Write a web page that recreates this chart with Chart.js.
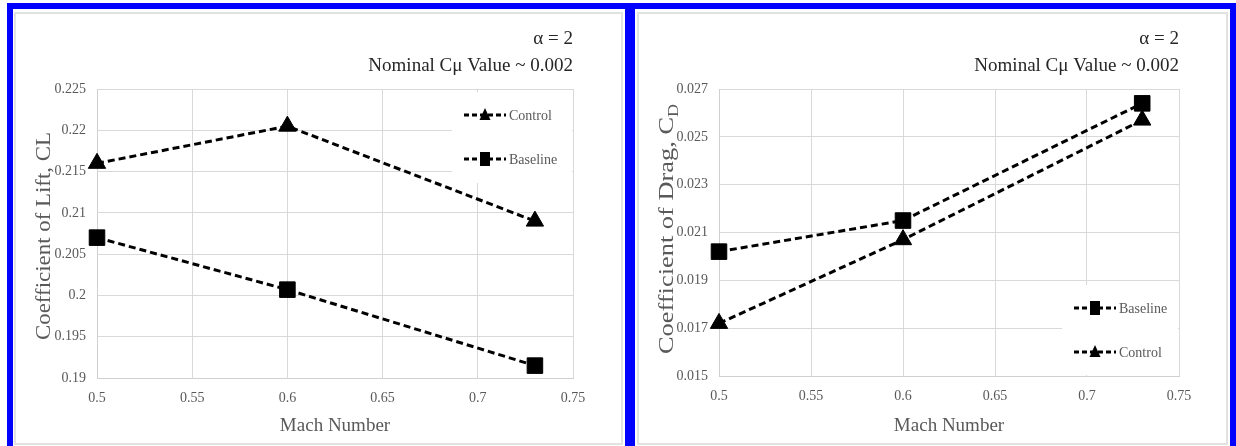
<!DOCTYPE html>
<html>
<head>
<meta charset="utf-8">
<script src="https://cdn.jsdelivr.net/npm/chart.js@4.4.1/dist/chart.umd.min.js"></script>
<style>
  body { margin: 0; background: #fff; width: 1236px; height: 446px; position: relative; overflow: hidden; }
  .blue { position: absolute; background: #0000ff; }
  .frame { position: absolute; border: 2px solid #e2e2e2; box-sizing: border-box; }
  canvas { position: absolute; }
</style>
</head>
<body>
<div class="blue" style="left:7px;top:3px;width:1229px;height:6px"></div>
<div class="blue" style="left:7px;top:3px;width:6px;height:443px"></div>
<div class="blue" style="left:625px;top:3px;width:10px;height:443px"></div>
<div class="blue" style="left:1230px;top:3px;width:6px;height:443px"></div>
<div class="frame" style="left:14px;top:12px;width:609px;height:433px"></div>
<div class="frame" style="left:637px;top:12px;width:591px;height:433px"></div>
<canvas id="lift-chart" width="604" height="429" style="left:16px;top:14px"></canvas>
<canvas id="drag-chart" width="587" height="429" style="left:639px;top:14px"></canvas>
<script>
// values
const machNumbers = [0.5, 0.6, 0.73];
const liftControl = [0.216, 0.2205, 0.209];
const liftBaseline = [0.207, 0.2007, 0.1915];
const dragBaseline = [0.0202, 0.0215, 0.0264];
const dragControl = [0.0172, 0.0207, 0.0257];

const machTicks = [0.5, 0.55, 0.6, 0.65, 0.7, 0.75];
const liftTicks = [0.19, 0.195, 0.2, 0.205, 0.21, 0.215, 0.22, 0.225];
const dragTicks = [0.015, 0.017, 0.019, 0.021, 0.023, 0.025, 0.027];

const titleLines = ["α = 2", "Nominal Cμ Value ~ 0.002"];
const xTitle = "Mach Number";

const serif = "'Liberation Serif', 'Times New Roman', serif";
const gray = "#595959";
const gridColor = "#d9d9d9";

function points(ys) {
  return machNumbers.map((m, i) => ({ x: m, y: ys[i] }));
}

function series(label, ys, style) {
  return {
    label,
    data: points(ys),
    borderColor: "#000",
    borderWidth: 3,
    borderDash: [7, 4],
    pointStyle: style,
    pointRadius: style === "rect" ? 11 : 10,
    pointBackgroundColor: "#000",
    pointBorderColor: "#000",
    pointBorderWidth: 1,
    fill: false,
    tension: 0,
    clip: false
  };
}

function marker(ctx, style, x, y) {
  ctx.beginPath();
  if (style === "rect") {
    ctx.rect(x - 5, y - 7, 10, 14);
  } else {
    ctx.moveTo(x, y - 7);
    ctx.lineTo(x + 5.5, y + 5);
    ctx.lineTo(x - 5.5, y + 5);
    ctx.closePath();
  }
  ctx.fill();
}

// legend box sitting inside the plot, plus the axis titles
const decorations = {
  id: "decorations",
  beforeDatasetsDraw(chart, args, opts) {
    const { ctx, chartArea: a } = chart;
    const b = opts.box;
    const left = a.left + b.left, top = a.top + b.top;
    ctx.save();
    ctx.fillStyle = "#fff";
    ctx.fillRect(left, top, a.right - 1 - left, b.height);
    chart.data.datasets.forEach((ds, i) => {
      const y = top + 23 + i * 44;
      ctx.strokeStyle = "#000";
      ctx.lineWidth = 3;
      ctx.setLineDash([5, 3]);
      ctx.beginPath();
      ctx.moveTo(left + 12, y);
      ctx.lineTo(left + 54, y);
      ctx.stroke();
      ctx.fillStyle = "#000";
      marker(ctx, ds.pointStyle, left + 33, y);
      ctx.fillStyle = gray;
      ctx.font = "14px " + serif;
      ctx.textBaseline = "middle";
      ctx.textAlign = "left";
      ctx.fillText(ds.label, left + 57, y + 1);
    });
    ctx.restore();
  },
  afterDraw(chart, args, opts) {
    const { ctx, chartArea: a } = chart;
    ctx.save();
    ctx.fillStyle = gray;
    ctx.font = "19px " + serif;
    ctx.textAlign = "center";
    ctx.textBaseline = "middle";
    ctx.fillText(xTitle, (a.left + a.right) / 2, 412);

    // rotated y title, stretched along its length like the source
    ctx.translate(34, opts.yCenter);
    ctx.rotate(-Math.PI / 2);
    ctx.scale(opts.yStretch, 1);
    ctx.font = "22px " + serif;
    ctx.textBaseline = "alphabetic";
    ctx.textAlign = "left";
    const main = opts.yTitle, sub = opts.ySub || "";
    const wMain = ctx.measureText(main).width;
    ctx.font = "15px " + serif;
    const wSub = ctx.measureText(sub).width;
    const start = -(wMain + wSub) / 2;
    ctx.font = "22px " + serif;
    ctx.fillText(main, start, 0);
    if (sub) {
      ctx.font = "15px " + serif;
      ctx.fillText(sub, start + wMain, 5);
    }
    ctx.restore();
  }
};

function makeChart(id, datasets, yTicks, deco) {
  return new Chart(id, {
    type: "line",
    data: { datasets },
    plugins: [decorations],
    options: {
      responsive: false,
      animation: false,
      layout: { padding: { left: 0, right: 47, top: 0, bottom: 0 } },
      scales: {
        x: {
          type: "linear",
          min: machTicks[0],
          max: machTicks[machTicks.length - 1],
          afterBuildTicks: axis => { axis.ticks = machTicks.map(v => ({ value: v })); },
          afterFit: s => { s.height = id === "lift-chart" ? 65 : 67; },
          grid: { color: gridColor, drawTicks: false },
          border: { color: "#d0d0d0" },
          ticks: { color: gray, font: { family: serif, size: 14 }, padding: 12, callback: v => String(v), maxRotation: 0 }
        },
        y: {
          min: yTicks[0],
          max: yTicks[yTicks.length - 1],
          afterBuildTicks: axis => { axis.ticks = yTicks.map(v => ({ value: v })); },
          afterFit: s => { s.width = id === "lift-chart" ? 81 : 80; },
          grid: { color: gridColor, drawTicks: false },
          border: { color: "#d0d0d0" },
          ticks: { color: gray, font: { family: serif, size: 14 }, padding: 11, callback: v => String(v) }
        }
      },
      plugins: {
        legend: { display: false },
        tooltip: { enabled: false },
        title: {
          display: true,
          text: titleLines,
          align: "end",
          color: "#262626",
          font: { family: serif, size: 19, weight: "normal", lineHeight: 27 / 19 },
          padding: { top: 12, bottom: 9 }
        },
        decorations: deco
      }
    }
  });
}

makeChart("lift-chart",
  [series("Control", liftControl, "triangle"), series("Baseline", liftBaseline, "rect")],
  liftTicks,
  { yTitle: "Coefficient of Lift, CL", ySub: "", yCenter: 222, yStretch: 1.04, box: { left: 355, top: 3, height: 91 } });

makeChart("drag-chart",
  [series("Baseline", dragBaseline, "rect"), series("Control", dragControl, "triangle")],
  dragTicks,
  { yTitle: "Coefficient of Drag, C", ySub: "D", yCenter: 215, yStretch: 1.2, box: { left: 343, top: 196, height: 90 } });
</script>
</body>
</html>
